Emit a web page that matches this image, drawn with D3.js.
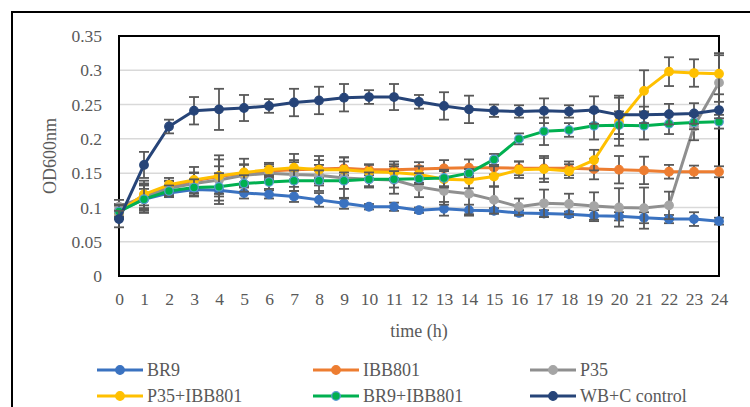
<!DOCTYPE html>
<html>
<head>
<meta charset="utf-8">
<script src="https://cdn.jsdelivr.net/npm/d3@7"></script>
<style>
  body { margin: 0; background: #fff; }
  text { font-family: "Palatino Linotype", "Book Antiqua", Palatino, "Liberation Serif", serif; }
</style>
</head>
<body>
<script>
let width = 750;
let height = 407;

// time points (h)
let hours = [0, 1, 2, 3, 4, 5, 6, 7, 8, 9, 10, 11, 12, 13, 14, 15, 16, 17, 18, 19, 20, 21, 22, 23, 24];
let yTicks = [0, 0.05, 0.1, 0.15, 0.2, 0.25, 0.3, 0.35];

let seriesNames = ["BR9", "IBB801", "P35", "P35+IBB801", "BR9+IBB801", "WB+C control"];

let br9 = [0.095, 0.112, 0.121, 0.126, 0.125, 0.121, 0.119, 0.116, 0.111, 0.106, 0.101, 0.101, 0.096, 0.098, 0.096, 0.095, 0.092, 0.091, 0.090, 0.088, 0.087, 0.085, 0.083, 0.083, 0.080];
let ibb801 = [0.095, 0.118, 0.131, 0.139, 0.145, 0.150, 0.153, 0.155, 0.156, 0.157, 0.155, 0.155, 0.156, 0.157, 0.158, 0.158, 0.157, 0.157, 0.157, 0.156, 0.155, 0.154, 0.152, 0.152, 0.152];
let p35 = [0.101, 0.115, 0.128, 0.135, 0.140, 0.147, 0.150, 0.148, 0.147, 0.143, 0.141, 0.140, 0.130, 0.124, 0.120, 0.111, 0.101, 0.106, 0.105, 0.102, 0.100, 0.099, 0.103, 0.218, 0.282];
let p35ibb = [0.093, 0.119, 0.133, 0.140, 0.146, 0.151, 0.155, 0.158, 0.155, 0.155, 0.152, 0.151, 0.148, 0.141, 0.140, 0.145, 0.155, 0.156, 0.153, 0.169, 0.225, 0.270, 0.298, 0.296, 0.295];
let br9ibb = [0.094, 0.112, 0.124, 0.129, 0.130, 0.135, 0.137, 0.139, 0.139, 0.139, 0.141, 0.141, 0.142, 0.143, 0.150, 0.170, 0.200, 0.211, 0.213, 0.219, 0.220, 0.219, 0.222, 0.224, 0.225];
let wbc = [0.083, 0.162, 0.218, 0.241, 0.243, 0.245, 0.248, 0.253, 0.256, 0.260, 0.261, 0.261, 0.254, 0.248, 0.243, 0.241, 0.240, 0.241, 0.240, 0.242, 0.235, 0.235, 0.236, 0.237, 0.242];

// standard deviations (error bars)
let br9Err = [0.010, 0.015, 0.006, 0.010, 0.020, 0.008, 0.006, 0.008, 0.010, 0.008, 0.004, 0.006, 0.004, 0.010, 0.008, 0.004, 0.004, 0.005, 0.004, 0.008, 0.006, 0.008, 0.006, 0.010, 0.005];
let ibb801Err = [0.008, 0.015, 0.008, 0.012, 0.025, 0.013, 0.010, 0.014, 0.013, 0.010, 0.008, 0.012, 0.010, 0.012, 0.012, 0.010, 0.010, 0.015, 0.010, 0.015, 0.020, 0.020, 0.010, 0.009, 0.008];
let p35Err = [0.010, 0.020, 0.010, 0.015, 0.020, 0.015, 0.010, 0.018, 0.015, 0.030, 0.012, 0.020, 0.015, 0.020, 0.030, 0.020, 0.012, 0.020, 0.015, 0.020, 0.028, 0.030, 0.020, 0.020, 0.040];
let p35ibbErr = [0.010, 0.020, 0.010, 0.019, 0.030, 0.020, 0.010, 0.020, 0.020, 0.018, 0.010, 0.012, 0.012, 0.012, 0.012, 0.015, 0.012, 0.019, 0.010, 0.015, 0.035, 0.030, 0.021, 0.020, 0.030];
let br9ibbErr = [0.010, 0.020, 0.008, 0.012, 0.020, 0.012, 0.010, 0.015, 0.015, 0.012, 0.010, 0.012, 0.008, 0.012, 0.006, 0.008, 0.008, 0.020, 0.010, 0.020, 0.020, 0.020, 0.015, 0.010, 0.010];
let wbcErr = [0.012, 0.019, 0.010, 0.020, 0.030, 0.019, 0.010, 0.020, 0.020, 0.020, 0.010, 0.019, 0.010, 0.020, 0.020, 0.009, 0.009, 0.018, 0.009, 0.020, 0.028, 0.012, 0.015, 0.015, 0.012];

let lineColors = ["#3A72C0", "#ED7D31", "#8F8F8F", "#FFC000", "#00B050", "#264478"];
let markerFill = ["#3A72C0", "#ED7D31", "#A5A5A5", "#FFC000", "#00B050", "#264478"];
let markerStroke = ["#3A72C0", "#ED7D31", "#A5A5A5", "#FFC000", "#5B9BD5", "#264478"];

let values = [br9, ibb801, p35, p35ibb, br9ibb, wbc];
let errors = [br9Err, ibb801Err, p35Err, p35ibbErr, br9ibbErr, wbcErr];

let series = seriesNames.map((name, i) => ({
    name: name,
    i: i,
    points: hours.map((h, j) => ({ h: h, v: values[i][j], e: errors[i][j] }))
}));

let svg = d3.select("body")
    .append("svg")
    .attr("width", width)
    .attr("height", height);

// outer frame
svg.append("rect")
    .attr("x", 12).attr("y", 12)
    .attr("width", 800).attr("height", 500)
    .attr("fill", "none")
    .attr("stroke", "#000")
    .attr("stroke-width", 2);

let margin = { left: 119, top: 36, right: 719, bottom: 276 };

let x = d3.scaleLinear().domain([0, 24]).range([margin.left, margin.right]);
let y = d3.scaleLinear().domain([0, 0.35]).range([margin.bottom, margin.top]);

// gridlines
svg.append("g")
    .selectAll("line")
    .data(yTicks.filter(t => t > 0))
    .enter().append("line")
    .attr("x1", margin.left).attr("x2", margin.right)
    .attr("y1", d => y(d)).attr("y2", d => y(d))
    .attr("stroke", "#D9D9D9")
    .attr("stroke-width", 1.5);

// y axis labels
let yAxis = d3.axisLeft(y).tickValues(yTicks).tickSize(0).tickPadding(17)
    .tickFormat(d => d === 0 ? "0" : d3.format("")(+d.toFixed(2)));
svg.append("g")
    .attr("transform", `translate(${margin.left},0)`)
    .call(yAxis)
    .call(g => g.select(".domain").remove())
    .selectAll("text")
    .attr("font-size", 17.5)
    .attr("fill", "#595959")
    .style("font-family", "\"Palatino Linotype\", \"Liberation Serif\", serif");

// x axis labels
let xAxis = d3.axisBottom(x).tickValues(hours).tickSize(0).tickPadding(17).tickFormat(d3.format("d"));
svg.append("g")
    .attr("transform", `translate(0,${margin.bottom})`)
    .call(xAxis)
    .call(g => g.select(".domain").remove())
    .selectAll("text")
    .attr("font-size", 17.5)
    .attr("fill", "#595959")
    .style("font-family", "\"Palatino Linotype\", \"Liberation Serif\", serif");

// axis titles
svg.append("text")
    .attr("x", (margin.left + margin.right) / 2)
    .attr("y", 337)
    .attr("text-anchor", "middle")
    .attr("font-size", 18)
    .attr("fill", "#595959")
    .text("time (h)");

svg.append("text")
    .attr("transform", "translate(56,156) rotate(-90)")
    .attr("text-anchor", "middle")
    .attr("font-size", 18)
    .attr("fill", "#595959")
    .text("OD600nm");

// plot border
svg.append("rect")
    .attr("x", margin.left).attr("y", margin.top)
    .attr("width", margin.right - margin.left)
    .attr("height", margin.bottom - margin.top)
    .attr("fill", "none")
    .attr("stroke", "#000")
    .attr("stroke-width", 2);

let line = d3.line()
    .x(d => x(d.h))
    .y(d => y(d.v));

let sGroup = svg.selectAll(".series")
    .data(series)
    .enter().append("g")
    .attr("class", "series");

sGroup.append("path")
    .attr("d", d => line(d.points))
    .attr("fill", "none")
    .attr("stroke", d => lineColors[d.i])
    .attr("stroke-width", 3)
    .attr("stroke-linejoin", "round");

// error bars
let eb = sGroup.selectAll(".err")
    .data(d => d.points)
    .enter().append("g")
    .attr("class", "err")
    .attr("stroke", "#595959")
    .attr("stroke-width", 1.8);

eb.append("line")
    .attr("x1", d => x(d.h)).attr("x2", d => x(d.h))
    .attr("y1", d => y(d.v - d.e)).attr("y2", d => y(d.v + d.e));
eb.append("line")
    .attr("x1", d => x(d.h) - 5).attr("x2", d => x(d.h) + 5)
    .attr("y1", d => y(d.v + d.e)).attr("y2", d => y(d.v + d.e));
eb.append("line")
    .attr("x1", d => x(d.h) - 5).attr("x2", d => x(d.h) + 5)
    .attr("y1", d => y(d.v - d.e)).attr("y2", d => y(d.v - d.e));

// markers
sGroup.each(function(s) {
    d3.select(this).selectAll("circle")
        .data(s.points)
        .enter().append("circle")
        .attr("cx", d => x(d.h))
        .attr("cy", d => y(d.v))
        .attr("r", 4.3)
        .attr("fill", markerFill[s.i])
        .attr("stroke", markerStroke[s.i])
        .attr("stroke-width", 1.2);
});

// legend
let legendX = [97, 313, 530];
let legendY = [370, 396];

let lg = svg.selectAll(".legend")
    .data(series)
    .enter().append("g")
    .attr("class", "legend")
    .attr("transform", d => `translate(${legendX[d.i % 3]},${legendY[Math.floor(d.i / 3)]})`);

lg.append("line")
    .attr("x1", 0).attr("x2", 46)
    .attr("stroke", d => lineColors[d.i])
    .attr("stroke-width", 3);

lg.append("circle")
    .attr("cx", 23)
    .attr("r", 4.3)
    .attr("fill", d => markerFill[d.i])
    .attr("stroke", d => markerStroke[d.i])
    .attr("stroke-width", 1.2);

lg.append("text")
    .attr("x", 50)
    .attr("dy", "0.35em")
    .attr("font-size", 18)
    .attr("fill", "#595959")
    .text(d => d.name);
</script>
</body>
</html>
